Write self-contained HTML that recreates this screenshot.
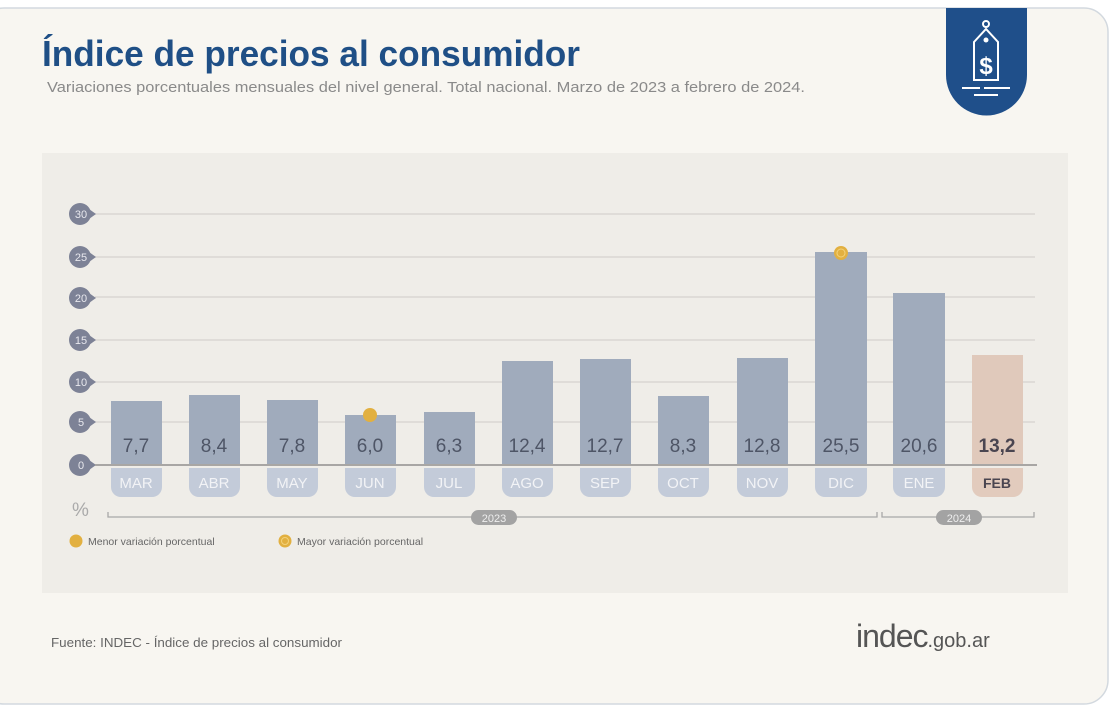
<!DOCTYPE html>
<html><head><meta charset="utf-8"><style>
html,body{margin:0;padding:0;background:#fff;}
svg{display:block;font-family:"Liberation Sans",Arial,sans-serif;}
</style></head><body>
<svg width="1110" height="706" viewBox="0 0 1110 706" xmlns="http://www.w3.org/2000/svg">
<rect x="0" y="0" width="1110" height="706" fill="#ffffff"/>
<rect x="-20" y="8" width="1128" height="696" rx="24" fill="#f8f6f1" stroke="#d3d9df" stroke-width="1.5"/>
<rect x="42" y="153" width="1026" height="440" fill="#efede8"/>
<text x="42" y="66" font-size="36" font-weight="bold" fill="#1f4f86" textLength="538" lengthAdjust="spacingAndGlyphs">Índice de precios al consumidor</text>
<text x="47" y="92" font-size="15" fill="#8a8a8a" textLength="758" lengthAdjust="spacingAndGlyphs">Variaciones porcentuales mensuales del nivel general. Total nacional. Marzo de 2023 a febrero de 2024.</text>
<!-- badge -->
<path d="M946 8 H1027 V75 A40.5 40.5 0 0 1 946 75 Z" fill="#1f4f8a"/>
<g stroke="#fff" stroke-width="2" fill="none">
<path d="M974 42 L986 29 L998 42 V80 H974 Z"/>
<circle cx="986" cy="24" r="3"/>
<line x1="962" y1="88" x2="980" y2="88"/><line x1="984" y1="88" x2="1010" y2="88"/><line x1="974" y1="95" x2="998" y2="95"/>
</g>
<circle cx="986" cy="40" r="2.5" fill="#fff"/>
<text x="986" y="74" font-size="24" font-weight="bold" fill="#fff" text-anchor="middle">$</text>
<!-- grid -->
<g stroke="#d5d3cf" stroke-width="1.2">
<line x1="95" y1="214" x2="1035" y2="214"/><line x1="95" y1="257" x2="1035" y2="257"/>
<line x1="95" y1="297" x2="1035" y2="297"/><line x1="95" y1="340" x2="1035" y2="340"/>
<line x1="95" y1="382" x2="1035" y2="382"/><line x1="95" y1="422" x2="1035" y2="422"/>
</g>
<g fill="#7d8296">
<circle cx="80" cy="214" r="11"/><path d="M89 209 L96 214 L89 219Z"/>
<circle cx="80" cy="257" r="11"/><path d="M89 252 L96 257 L89 262Z"/>
<circle cx="80" cy="298" r="11"/><path d="M89 293 L96 298 L89 303Z"/>
<circle cx="80" cy="340" r="11"/><path d="M89 335 L96 340 L89 345Z"/>
<circle cx="80" cy="382" r="11"/><path d="M89 377 L96 382 L89 387Z"/>
<circle cx="80" cy="422" r="11"/><path d="M89 417 L96 422 L89 427Z"/>
<circle cx="80" cy="465" r="11"/><path d="M89 460 L96 465 L89 470Z"/>
</g>
<g fill="#e8e8ee" font-size="11" text-anchor="middle">
<text x="81" y="218">30</text><text x="81" y="261">25</text><text x="81" y="302">20</text><text x="81" y="344">15</text><text x="81" y="386">10</text><text x="81" y="426">5</text><text x="81" y="469">0</text>
</g>
<!-- bars -->
<g fill="#a0abbc">
<rect x="111" y="401" width="51" height="64"/>
<rect x="189" y="395" width="51" height="70"/>
<rect x="267" y="400" width="51" height="65"/>
<rect x="345" y="415" width="51" height="50"/>
<rect x="424" y="412" width="51" height="53"/>
<rect x="502" y="361" width="51" height="104"/>
<rect x="580" y="359" width="51" height="106"/>
<rect x="658" y="396" width="51" height="69"/>
<rect x="737" y="358" width="51" height="107"/>
<rect x="815" y="252" width="52" height="213"/>
<rect x="893" y="293" width="52" height="172"/>
</g>
<rect x="972" y="355" width="51" height="110" fill="#e0c9bb"/>
<line x1="95" y1="465" x2="1037" y2="465" stroke="#a8a6a4" stroke-width="2"/>
<g font-size="19" fill="#4e5566" text-anchor="middle">
<text x="136" y="452">7,7</text><text x="214" y="452">8,4</text><text x="292" y="452">7,8</text><text x="370" y="452">6,0</text>
<text x="449" y="452">6,3</text><text x="527" y="452">12,4</text><text x="605" y="452">12,7</text><text x="683" y="452">8,3</text>
<text x="762" y="452">12,8</text><text x="841" y="452">25,5</text><text x="919" y="452">20,6</text>
<text x="997" y="452" font-weight="bold" fill="#4a4550">13,2</text>
</g>
<!-- pills -->
<g fill="#c3cbd9">
<path d="M111 468 H162 V487 A10 10 0 0 1 152 497 H121 A10 10 0 0 1 111 487Z"/>
<path d="M189 468 H240 V487 A10 10 0 0 1 230 497 H199 A10 10 0 0 1 189 487Z"/>
<path d="M267 468 H318 V487 A10 10 0 0 1 308 497 H277 A10 10 0 0 1 267 487Z"/>
<path d="M345 468 H396 V487 A10 10 0 0 1 386 497 H355 A10 10 0 0 1 345 487Z"/>
<path d="M424 468 H475 V487 A10 10 0 0 1 465 497 H434 A10 10 0 0 1 424 487Z"/>
<path d="M502 468 H553 V487 A10 10 0 0 1 543 497 H512 A10 10 0 0 1 502 487Z"/>
<path d="M580 468 H631 V487 A10 10 0 0 1 621 497 H590 A10 10 0 0 1 580 487Z"/>
<path d="M658 468 H709 V487 A10 10 0 0 1 699 497 H668 A10 10 0 0 1 658 487Z"/>
<path d="M737 468 H788 V487 A10 10 0 0 1 778 497 H747 A10 10 0 0 1 737 487Z"/>
<path d="M815 468 H867 V487 A10 10 0 0 1 857 497 H825 A10 10 0 0 1 815 487Z"/>
<path d="M893 468 H945 V487 A10 10 0 0 1 935 497 H903 A10 10 0 0 1 893 487Z"/>
</g>
<path d="M972 468 H1023 V487 A10 10 0 0 1 1013 497 H982 A10 10 0 0 1 972 487Z" fill="#e2cbbd"/>
<g font-size="15" fill="#f2f3f6" text-anchor="middle">
<text x="136" y="488">MAR</text><text x="214" y="488">ABR</text><text x="292" y="488">MAY</text><text x="370" y="488">JUN</text>
<text x="449" y="488">JUL</text><text x="527" y="488">AGO</text><text x="605" y="488">SEP</text><text x="683" y="488">OCT</text>
<text x="762" y="488">NOV</text><text x="841" y="488">DIC</text><text x="919" y="488">ENE</text>
<text x="997" y="488" font-weight="bold" fill="#4a4550" font-size="14">FEB</text>
</g>
<!-- dots -->
<circle cx="370" cy="415" r="7" fill="#e2b040"/>
<circle cx="841" cy="253" r="7" fill="#e2b040"/><circle cx="841" cy="253" r="4" fill="none" stroke="#f3d27a" stroke-width="1"/>
<!-- brackets -->
<text x="72" y="516" font-size="19" fill="#aaaaaa">%</text>
<path d="M108 512 V517 H877 V512" fill="none" stroke="#a8a8a8" stroke-width="1.3"/>
<path d="M882 512 V517 H1034 V512" fill="none" stroke="#a8a8a8" stroke-width="1.3"/>
<rect x="471" y="510" width="46" height="15" rx="7.5" fill="#a3a3a3"/>
<text x="494" y="522" font-size="11" fill="#eee" text-anchor="middle">2023</text>
<rect x="936" y="510" width="46" height="15" rx="7.5" fill="#a3a3a3"/>
<text x="959" y="522" font-size="11" fill="#eee" text-anchor="middle">2024</text>
<!-- legend -->
<circle cx="76" cy="541" r="6.5" fill="#e2b040"/>
<text x="88" y="545" font-size="10.5" fill="#666">Menor variación porcentual</text>
<circle cx="285" cy="541" r="6.5" fill="#e2b040"/><circle cx="285" cy="541" r="3.5" fill="none" stroke="#f3d27a"/>
<text x="297" y="545" font-size="10.5" fill="#666">Mayor variación porcentual</text>
<!-- footer -->
<text x="51" y="647" font-size="12.5" fill="#666" textLength="291" lengthAdjust="spacingAndGlyphs">Fuente: INDEC - Índice de precios al consumidor</text>
<text x="856" y="647" fill="#555"><tspan font-size="32" letter-spacing="-1">indec</tspan><tspan font-size="20">.gob.ar</tspan></text>
</svg>
</body></html>
